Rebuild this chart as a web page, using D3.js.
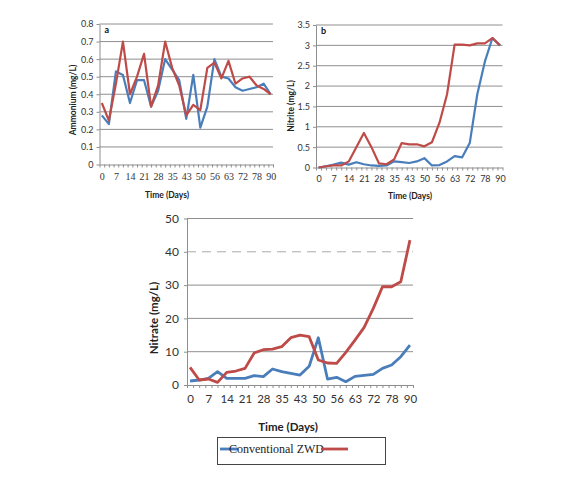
<!DOCTYPE html>
<html>
<head>
<meta charset="utf-8">
<script src="https://cdn.jsdelivr.net/npm/d3@7"></script>
<style>
  body { margin: 0; background: #fff; }
  svg { display: block; }
</style>
</head>
<body>
<div id="chart"></div>
<script>
// sampling days (every other one is labelled on the axis)
const days = [0, 3, 7, 10, 14, 17, 21, 24, 28, 31, 35, 39, 43, 46, 50, 53, 56, 60, 63, 67, 72, 75, 78, 84, 90]
const seriesNames = ["Conventional", "ZWD"]

const ammoniumConv = [0.28, 0.23, 0.53, 0.51, 0.35, 0.48, 0.48, 0.33, 0.42, 0.60, 0.54, 0.48, 0.26, 0.51, 0.21, 0.33, 0.60, 0.50, 0.49, 0.44, 0.42, 0.43, 0.44, 0.46, 0.40]
const ammoniumZwd = [0.35, 0.25, 0.46, 0.70, 0.40, 0.50, 0.63, 0.33, 0.45, 0.70, 0.55, 0.45, 0.28, 0.34, 0.31, 0.55, 0.58, 0.49, 0.59, 0.46, 0.49, 0.50, 0.45, 0.43, 0.40]
const ammoniumTicks = [0, 0.1, 0.2, 0.3, 0.4, 0.5, 0.6, 0.7, 0.8]

const nitriteConv = [0, 0.03, 0.07, 0.12, 0.07, 0.13, 0.08, 0.05, 0.04, 0.05, 0.15, 0.13, 0.11, 0.15, 0.23, 0.05, 0.06, 0.15, 0.28, 0.25, 0.6, 1.8, 2.6, 3.18, 3.0]
const nitriteZwd = [0, 0.03, 0.05, 0.05, 0.15, 0.5, 0.85, 0.5, 0.1, 0.08, 0.2, 0.6, 0.57, 0.57, 0.52, 0.62, 1.1, 1.8, 3.02, 3.02, 3.0, 3.05, 3.05, 3.18, 3.0]
const nitriteTicks = [0, 0.5, 1, 1.5, 2, 2.5, 3, 3.5]

const nitrateConv = [1.2, 1.5, 2.0, 4.0, 2.0, 2.0, 2.0, 2.8, 2.5, 4.8, 4.0, 3.5, 3.0, 5.6, 14.2, 1.8, 2.3, 1.0, 2.6, 2.9, 3.2, 5.0, 6.0, 8.5, 12.0]
const nitrateZwd = [5.3, 1.5, 1.8, 0.8, 3.8, 4.2, 5.0, 9.6, 10.6, 10.8, 11.5, 14.2, 15.0, 14.5, 7.5, 6.6, 6.5, 9.8, 13.5, 17.3, 23.0, 29.5, 29.5, 31.0, 43.5]
const nitrateTicks = [0, 10, 20, 30, 40, 50]

const colors = ["#4a7ebb", "#be4b48"]
const sans = "Lato, 'Open Sans', sans-serif"
const serif = "'Liberation Serif', 'DejaVu Serif', serif"

const svg = d3.select("#chart")
  .append("svg")
  .attr("width", 585)
  .attr("height", 479)

function drawPanel(p) {
  const g = svg.append("g")

  // category axis: 3 minor ticks per labelled day, points on every 1.5 bands
  const x = d3.scaleLinear()
    .domain([-1 / 3, days.length - 1 + 1 / 3])
    .range([p.left, p.right])
  const y = d3.scaleLinear()
    .domain([0, d3.max(p.ticks)])
    .range([p.bottom, p.top])

  g.selectAll(".grid")
    .data(p.ticks.filter((t) => t > 0))
    .enter()
    .append("line")
    .attr("x1", p.left)
    .attr("x2", p.right)
    .attr("y1", (d) => y(d))
    .attr("y2", (d) => y(d))
    .attr("stroke", (d) => (d === p.dashed ? "#aaa" : "#8e8e8e"))
    .attr("stroke-width", 1)
    .attr("stroke-dasharray", (d) => (d === p.dashed ? "9,6" : null))

  const yAxis = g.append("g")
    .attr("transform", `translate(${p.left},0)`)
    .call(d3.axisLeft(y).tickValues(p.ticks).tickSize(3).tickSizeOuter(0).tickFormat(d3.format("~g")))
  yAxis.select(".domain").attr("stroke", "#8e8e8e")
  yAxis.selectAll(".tick line").attr("stroke", "#8e8e8e")
  yAxis.selectAll(".tick text")
    .attr("x", -p.yLabelGap)
    .attr("fill", "#333")
    .style("font-family", sans)
    .style("font-size", p.yFont + "px")

  const edges = d3.range(0, (days.length - 1) * 1.5 + 2).map((k) => -1 / 3 + k * 2 / 3)
  const xTicks = g.append("g")
    .attr("transform", `translate(0,${p.bottom})`)
    .call(d3.axisBottom(x).tickValues(edges).tickSize(3).tickSizeOuter(0).tickFormat(""))
  xTicks.select(".domain").attr("stroke", "#8e8e8e")
  xTicks.selectAll(".tick line").attr("stroke", "#8e8e8e")

  const labelled = d3.range(0, days.length, 2)
  const xLabels = g.append("g")
    .attr("transform", `translate(0,${p.bottom})`)
    .call(d3.axisBottom(x).tickValues(labelled).tickSize(0).tickFormat((i) => days[i]))
  xLabels.select(".domain").remove()
  xLabels.selectAll(".tick text")
    .attr("y", p.xLabelGap)
    .attr("fill", "#333")
    .style("font-family", p.xSerif ? serif : sans)
    .style("font-size", p.xFont + "px")

  const line = d3.line()
    .x((d, i) => x(i))
    .y((d) => y(d))

  p.series.forEach((s, k) => {
    g.append("path")
      .datum(s)
      .attr("fill", "none")
      .attr("stroke", colors[k])
      .attr("stroke-width", p.lineWidth)
      .attr("stroke-linejoin", "round")
      .attr("d", line)
  })

  g.append("text")
    .attr("transform", `translate(${p.yTitleX},${p.yTitleY}) rotate(-90)`)
    .attr("text-anchor", "middle")
    .attr("font-family", sans)
    .attr("font-weight", "bold")
    .attr("font-size", p.titleFont + "px")
    .attr("fill", "#222")
    .text(p.yTitle)

  g.append("text")
    .attr("x", p.xTitleX)
    .attr("y", p.xTitleY)
    .attr("text-anchor", "middle")
    .attr("font-family", sans)
    .attr("font-weight", "bold")
    .attr("font-size", p.titleFont + "px")
    .attr("fill", "#222")
    .text("Time (Days)")

  if (p.tag) {
    g.append("text")
      .attr("x", p.left + 5)
      .attr("y", p.top + 9)
      .attr("font-family", sans)
      .attr("font-weight", "bold")
      .attr("font-size", "9px")
      .attr("fill", "#111")
      .text(p.tag)
  }
}

drawPanel({
  series: [ammoniumConv, ammoniumZwd], ticks: ammoniumTicks, tag: "a",
  left: 99.5, right: 273, top: 24, bottom: 164.5,
  yFont: 9, yLabelGap: 6, xFont: 10, xLabelGap: 8, xSerif: true, lineWidth: 2.2,
  yTitle: "Ammonium (mg/L)", yTitleX: 76, yTitleY: 100, titleFont: 8.5,
  xTitleX: 167, xTitleY: 198
})

drawPanel({
  series: [nitriteConv, nitriteZwd], ticks: nitriteTicks, tag: "b",
  left: 316, right: 502.5, top: 25, bottom: 167.5,
  yFont: 9, yLabelGap: 6, xFont: 9, xLabelGap: 8, xSerif: false, lineWidth: 2.2,
  yTitle: "Nitrite (mg/L)", yTitleX: 294, yTitleY: 106, titleFont: 8.5,
  xTitleX: 410, xTitleY: 199
})

drawPanel({
  series: [nitrateConv, nitrateZwd], ticks: nitrateTicks, tag: null, dashed: 40,
  left: 187, right: 413, top: 218.5, bottom: 385,
  yFont: 12, yLabelGap: 8, xFont: 11.5, xLabelGap: 10, xSerif: false, lineWidth: 2.8,
  yTitle: "Nitrate (mg/L)", yTitleX: 158, yTitleY: 318, titleFont: 11.5,
  xTitleX: 288, xTitleY: 431
})

// legend
const legend = svg.append("g")
legend.append("rect")
  .attr("x", 217.5).attr("y", 437.5)
  .attr("width", 168).attr("height", 27)
  .attr("fill", "#fff")
  .attr("stroke", "#444")
  .attr("stroke-width", 1)

legend.append("line")
  .attr("x1", 220).attr("x2", 238).attr("y1", 449).attr("y2", 449)
  .attr("stroke", colors[0]).attr("stroke-width", 2.8)
const legendText = legend.append("text")
  .attr("x", 229).attr("y", 453)
  .attr("font-family", serif).attr("font-size", "12px").attr("fill", "#222")
  .text(seriesNames.join(" "))
const textEnd = 229 + legendText.node().getComputedTextLength()
legend.append("line")
  .attr("x1", textEnd - 3).attr("x2", textEnd + 24).attr("y1", 449).attr("y2", 449)
  .attr("stroke", colors[1]).attr("stroke-width", 2.8)
</script>
</body>
</html>
